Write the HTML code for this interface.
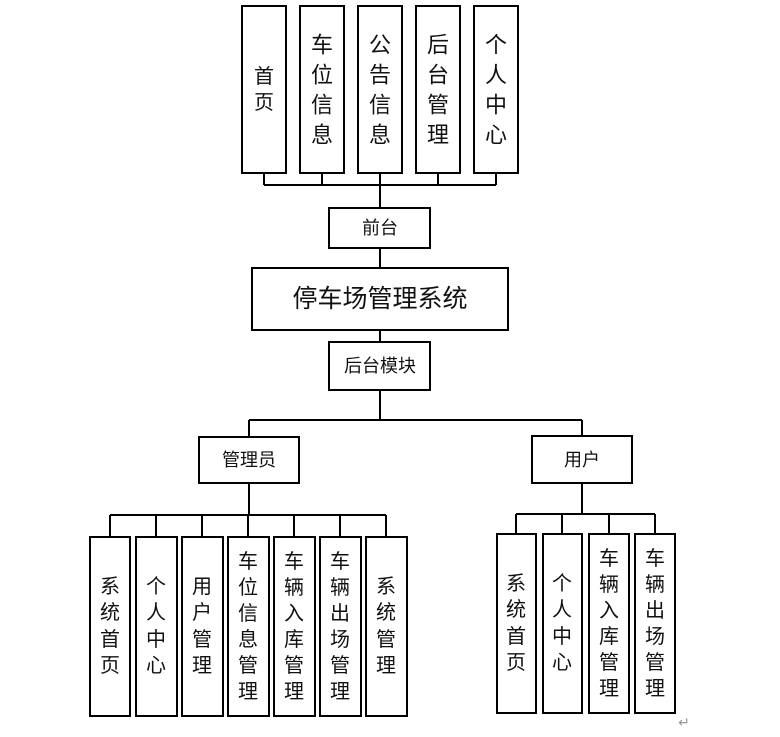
<!DOCTYPE html>
<html><head><meta charset="utf-8"><style>
html,body{margin:0;padding:0;background:#fff;}
svg{display:block;}
text{font-family:"Liberation Sans","Noto Sans CJK SC",sans-serif;fill:#111;text-anchor:middle;dominant-baseline:central;}
</style></head><body>
<svg width="780" height="737" viewBox="0 0 780 737" xmlns="http://www.w3.org/2000/svg">
<g fill="none" stroke="#000" stroke-width="2">
<!-- top boxes -->
<rect x="242" y="6" width="44" height="167"/>
<rect x="300" y="6" width="44" height="167"/>
<rect x="358" y="6" width="44" height="167"/>
<rect x="416" y="6" width="44" height="167"/>
<rect x="474" y="6" width="44" height="167"/>
<path d="M264 173V185M322 173V185M380 173V208M438 173V185M496 173V185M264 185H496"/>
<rect x="329" y="208" width="101" height="40"/>
<path d="M380 248V268"/>
<rect x="252" y="268" width="256" height="62"/>
<path d="M380 330V342"/>
<rect x="329" y="342" width="101" height="48"/>
<path d="M380 390V420M249 420H582M249 420V437M582 420V436"/>
<rect x="199" y="437" width="100" height="46"/>
<rect x="532" y="436" width="100" height="47"/>
<path d="M249 483V515M110 515H386M110 515V537M156 515V537M202 515V537M248 515V537M294 515V537M340 515V537M386 515V537"/>
<rect x="90" y="537" width="40" height="179"/>
<rect x="136" y="537" width="41" height="179"/>
<rect x="182" y="537" width="41" height="179"/>
<rect x="228" y="537" width="41" height="179"/>
<rect x="274" y="537" width="41" height="179"/>
<rect x="320" y="537" width="41" height="179"/>
<rect x="366" y="537" width="41" height="179"/>
<path d="M582 483V514M516 514H655M516 514V534M562 514V534M609 514V534M655 514V534"/>
<rect x="497" y="534" width="39" height="179"/>
<rect x="543" y="534" width="39" height="179"/>
<rect x="589" y="534" width="40" height="179"/>
<rect x="635" y="534" width="40" height="179"/>
</g>
<g font-size="20">
<text x="264" y="77">首</text><text x="264" y="103">页</text>
</g>
<g font-size="22">
<text x="322" y="45">车</text><text x="322" y="75">位</text><text x="322" y="105">信</text><text x="322" y="135">息</text>
<text x="380" y="45">公</text><text x="380" y="75">告</text><text x="380" y="105">信</text><text x="380" y="135">息</text>
<text x="438" y="45">后</text><text x="438" y="75">台</text><text x="438" y="105">管</text><text x="438" y="135">理</text>
<text x="496" y="45">个</text><text x="496" y="75">人</text><text x="496" y="105">中</text><text x="496" y="135">心</text>
</g>
<text x="380" y="228" font-size="18">前台</text>
<text x="380" y="299" font-size="25">停车场管理系统</text>
<text x="380" y="366" font-size="18">后台模块</text>
<text x="249" y="460" font-size="18">管理员</text>
<text x="582" y="460" font-size="18">用户</text>
<g font-size="20">
<text x="110" y="587">系</text><text x="110" y="613">统</text><text x="110" y="640">首</text><text x="110" y="666">页</text>
<text x="156" y="587">个</text><text x="156" y="613">人</text><text x="156" y="640">中</text><text x="156" y="666">心</text>
<text x="202" y="587">用</text><text x="202" y="613">户</text><text x="202" y="640">管</text><text x="202" y="666">理</text>
<text x="248" y="562">车</text><text x="248" y="588">位</text><text x="248" y="614">信</text><text x="248" y="640">息</text><text x="248" y="666">管</text><text x="248" y="692">理</text>
<text x="294" y="562">车</text><text x="294" y="588">辆</text><text x="294" y="614">入</text><text x="294" y="640">库</text><text x="294" y="666">管</text><text x="294" y="692">理</text>
<text x="340" y="562">车</text><text x="340" y="588">辆</text><text x="340" y="614">出</text><text x="340" y="640">场</text><text x="340" y="666">管</text><text x="340" y="692">理</text>
<text x="386" y="587">系</text><text x="386" y="613">统</text><text x="386" y="640">管</text><text x="386" y="666">理</text>
<text x="516" y="584">系</text><text x="516" y="610">统</text><text x="516" y="637">首</text><text x="516" y="663">页</text>
<text x="562" y="584">个</text><text x="562" y="610">人</text><text x="562" y="637">中</text><text x="562" y="663">心</text>
<text x="609" y="559">车</text><text x="609" y="585">辆</text><text x="609" y="611">入</text><text x="609" y="637">库</text><text x="609" y="663">管</text><text x="609" y="689">理</text>
<text x="655" y="559">车</text><text x="655" y="585">辆</text><text x="655" y="611">出</text><text x="655" y="637">场</text><text x="655" y="663">管</text><text x="655" y="689">理</text>
</g>
<text x="684" y="722" font-size="14" style="fill:#999">↵</text>
</svg>
</body></html>
